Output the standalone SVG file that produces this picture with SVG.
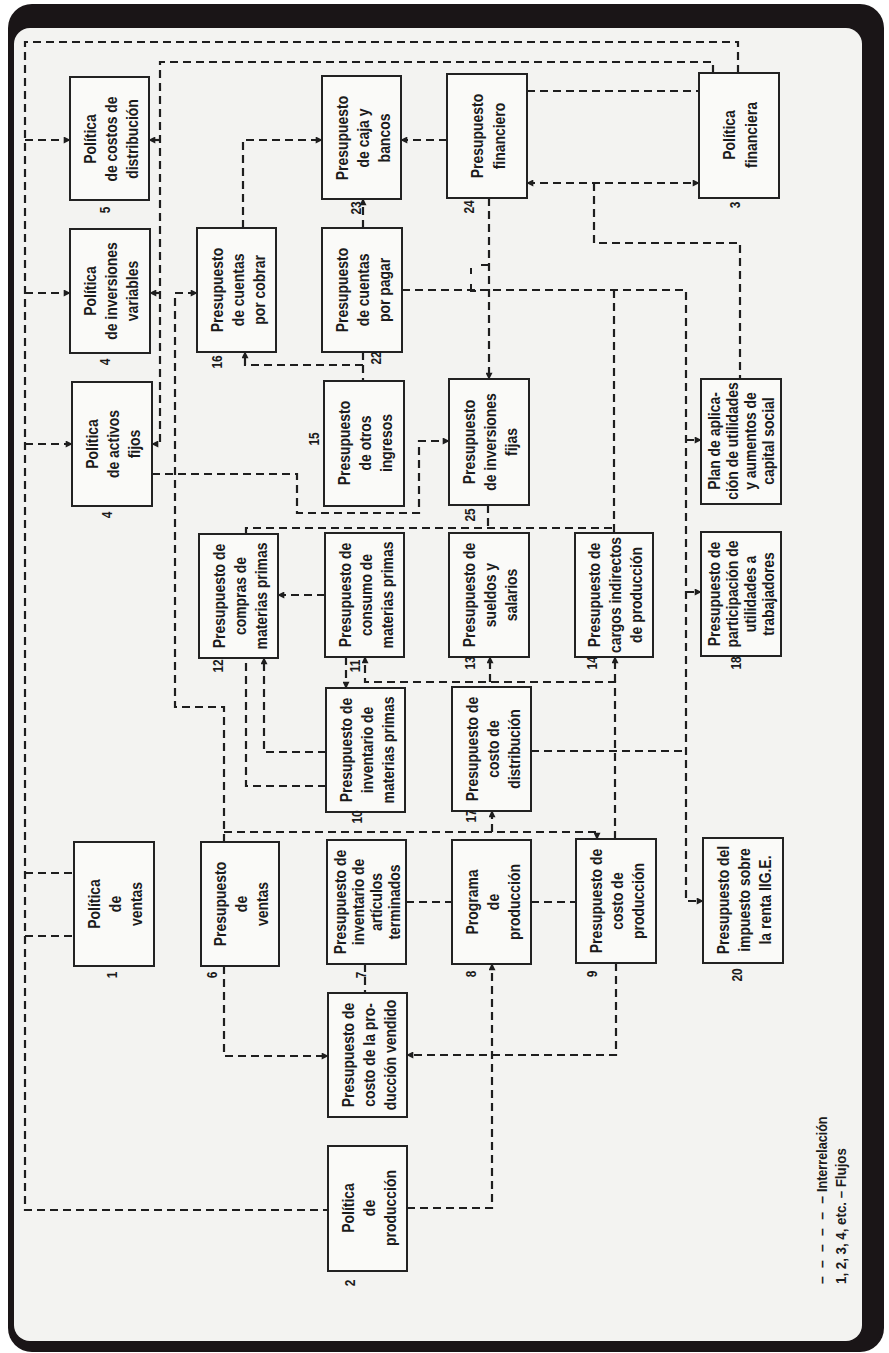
<svg xmlns="http://www.w3.org/2000/svg" width="889" height="1353" viewBox="0 0 889 1353">
<style>
.box{fill:#fafaf8;stroke:#222;stroke-width:2}
.t{font-family:"Liberation Sans",Arial,sans-serif;font-weight:bold;font-size:17px;fill:#1b1b1b;text-anchor:middle}
.n{font-family:"Liberation Sans",Arial,sans-serif;font-weight:bold;font-size:14px;fill:#1b1b1b;text-anchor:middle}
.lg{font-family:"Liberation Sans",Arial,sans-serif;font-weight:bold;font-size:14px;fill:#1b1b1b}
.c{fill:none;stroke:#1e1e1e;stroke-width:2.2;stroke-dasharray:8 5}
.a{marker-end:url(#ah)}
.s{fill:none;stroke:#1e1e1e;stroke-width:2}
</style>
<defs>
<marker id="ah" viewBox="0 0 10 10" refX="9" refY="5" markerWidth="8" markerHeight="7" orient="auto-start-reverse" markerUnits="userSpaceOnUse"><path d="M0,0L10,5L0,10z" fill="#1e1e1e"/></marker>
</defs>
<rect x="8" y="4" width="876" height="1348" rx="24" fill="#1a1517"/>
<rect x="14" y="28" width="848" height="1313" rx="16" fill="#f3f3f1"/>

<g id="connectors">
<path class="c" d="M738,73V42H25V1210H328"/>
<path class="c a" d="M25,140H70"/>
<path class="c a" d="M25,293H70"/>
<path class="c a" d="M25,444H72"/>
<path class="c" d="M25,873H74"/>
<path class="c" d="M25,936H74"/>
<path class="c a" d="M713,73V62H160V444H152"/>
<path class="c a" d="M160,140H149"/>
<path class="c a" d="M160,293H150"/>
<path class="c a" d="M407,1208H492V964"/>
<path class="c a" d="M616,963V1055H407"/>
<path class="c a" d="M224,966V1056H328"/>
<path class="c a" d="M224,842V707H175V293H197"/>
<path class="c a" d="M224,832H597V839"/>
<path class="c a" d="M492,832V811"/>
<path class="c" d="M406,902H452"/>
<path class="c" d="M531,902H576"/>
<path class="c" d="M365,964V993"/>
<path class="c a" d="M326,752H264V658"/>
<path class="c" d="M326,786H246V658"/>
<path class="c a" d="M346,657V688"/>
<path class="c a" d="M615,839V682H365V657"/>
<path class="c a" d="M490,682V657"/>
<path class="c a" d="M615,682V657"/>
<path class="c a" d="M325,595H278"/>
<path class="c a" d="M402,290H686V901H703"/>
<path class="c a" d="M686,440H701"/>
<path class="c a" d="M686,592H701"/>
<path class="c" d="M614,290V533"/>
<path class="c" d="M246,534V528H614"/>
<path class="c" d="M488,505V528"/>
<path class="c a" d="M152,474H297V513H419V441H449"/>
<path class="c a" d="M243,228V140H322"/>
<path class="c a" d="M447,140H401"/>
<path class="c a" d="M363,228V199"/>
<path class="c" d="M363,352V381"/>
<path class="c a" d="M363,365H245V352"/>
<path class="c a" d="M489,198V379"/>
<path class="c a" d="M527,183H699" marker-start="url(#ah)"/>
<path class="c" d="M527,91H699"/>
<path class="c" d="M594,183V243H740V379"/>
<path class="c" d="M531,751H686"/>
<path class="s" d="M471,268V274M471,284V291H476M481,265H489"/>
</g>

<g id="n1"><rect class="box" x="70" y="77" width="79" height="123"/><g transform="translate(110,139) rotate(-90) scale(0.82,1)"><text class="t" y="-14">Política</text><text class="t" y="7">de costos de</text><text class="t" y="28">distribución</text></g><text class="n" transform="translate(105,210) rotate(-90) scale(0.85,1)" y="5">5</text></g>
<g id="n2"><rect class="box" x="70" y="229" width="80" height="124"/><g transform="translate(110,291) rotate(-90) scale(0.82,1)"><text class="t" y="-14">Política</text><text class="t" y="7">de inversiones</text><text class="t" y="28">variables</text></g><text class="n" transform="translate(105,362) rotate(-90) scale(0.85,1)" y="5">4</text></g>
<g id="n3"><rect class="box" x="72" y="382" width="80" height="124"/><g transform="translate(112,444) rotate(-90) scale(0.82,1)"><text class="t" y="-14">Política</text><text class="t" y="7">de activos</text><text class="t" y="28">fijos</text></g><text class="n" transform="translate(107,515) rotate(-90) scale(0.85,1)" y="5">4</text></g>
<g id="n4"><rect class="box" x="74" y="842" width="80" height="124"/><g transform="translate(114,904) rotate(-90) scale(0.82,1)"><text class="t" y="-14">Política</text><text class="t" y="7">de</text><text class="t" y="28">ventas</text></g><text class="n" transform="translate(112,975) rotate(-90) scale(0.85,1)" y="5">1</text></g>
<g id="n5"><rect class="box" x="197" y="228" width="79" height="124"/><g transform="translate(237,290) rotate(-90) scale(0.82,1)"><text class="t" y="-14">Presupuesto</text><text class="t" y="7">de cuentas</text><text class="t" y="28">por cobrar</text></g><text class="n" transform="translate(217,362) rotate(-90) scale(0.85,1)" y="5">16</text></g>
<g id="n6"><rect class="box" x="199" y="534" width="79" height="124"/><g transform="translate(239,596) rotate(-90) scale(0.82,1)"><text class="t" y="-14">Presupuesto de</text><text class="t" y="7">compras de</text><text class="t" y="28">materias primas</text></g><text class="n" transform="translate(218,666) rotate(-90) scale(0.85,1)" y="5">12</text></g>
<g id="n7"><rect class="box" x="201" y="842" width="78" height="124"/><g transform="translate(240,904) rotate(-90) scale(0.82,1)"><text class="t" y="-14">Presupuesto</text><text class="t" y="7">de</text><text class="t" y="28">ventas</text></g><text class="n" transform="translate(212,975) rotate(-90) scale(0.85,1)" y="5">6</text></g>
<g id="n8"><rect class="box" x="322" y="76" width="79" height="123"/><g transform="translate(362,138) rotate(-90) scale(0.82,1)"><text class="t" y="-14">Presupuesto</text><text class="t" y="7">de caja y</text><text class="t" y="28">bancos</text></g><text class="n" transform="translate(356,208) rotate(-90) scale(0.85,1)" y="5">23</text></g>
<g id="n9"><rect class="box" x="322" y="228" width="80" height="124"/><g transform="translate(362,290) rotate(-90) scale(0.82,1)"><text class="t" y="-14">Presupuesto</text><text class="t" y="7">de cuentas</text><text class="t" y="28">por pagar</text></g><text class="n" transform="translate(376,358) rotate(-90) scale(0.85,1)" y="5">22</text></g>
<g id="n10"><rect class="box" x="324" y="381" width="80" height="125"/><g transform="translate(364,443) rotate(-90) scale(0.82,1)"><text class="t" y="-14">Presupuesto</text><text class="t" y="7">de otros</text><text class="t" y="28">ingresos</text></g><text class="n" transform="translate(314,439) rotate(-90) scale(0.85,1)" y="5">15</text></g>
<g id="n11"><rect class="box" x="325" y="533" width="79" height="124"/><g transform="translate(365,595) rotate(-90) scale(0.82,1)"><text class="t" y="-14">Presupuesto de</text><text class="t" y="7">consumo de</text><text class="t" y="28">materias primas</text></g><text class="n" transform="translate(355,666) rotate(-90) scale(0.85,1)" y="5">11</text></g>
<g id="n12"><rect class="box" x="326" y="688" width="79" height="124"/><g transform="translate(366,750) rotate(-90) scale(0.82,1)"><text class="t" y="-14">Presupuesto de</text><text class="t" y="7">inventario de</text><text class="t" y="28">materias primas</text></g><text class="n" transform="translate(357,817) rotate(-90) scale(0.85,1)" y="5">10</text></g>
<g id="n13"><rect class="box" x="327" y="840" width="79" height="124"/><g transform="translate(367,902) rotate(-90) scale(0.82,1)"><text class="t" y="-21">Presupuesto de</text><text class="t" y="-3">inventario de</text><text class="t" y="15">artículos</text><text class="t" y="33">terminados</text></g><text class="n" transform="translate(361,975) rotate(-90) scale(0.85,1)" y="5">7</text></g>
<g id="n14"><rect class="box" x="328" y="993" width="79" height="124"/><g transform="translate(368,1055) rotate(-90) scale(0.82,1)"><text class="t" y="-14">Presupuesto de</text><text class="t" y="7">costo de la pro-</text><text class="t" y="28">ducción vendido</text></g></g>
<g id="n15"><rect class="box" x="328" y="1146" width="79" height="125"/><g transform="translate(368,1208) rotate(-90) scale(0.82,1)"><text class="t" y="-14">Política</text><text class="t" y="7">de</text><text class="t" y="28">producción</text></g><text class="n" transform="translate(350,1283) rotate(-90) scale(0.85,1)" y="5">2</text></g>
<g id="n16"><rect class="box" x="447" y="74" width="80" height="124"/><g transform="translate(487,136) rotate(-90) scale(0.82,1)"><text class="t" y="-4">Presupuesto</text><text class="t" y="18">financiero</text></g><text class="n" transform="translate(469,207) rotate(-90) scale(0.85,1)" y="5">24</text></g>
<g id="n17"><rect class="box" x="449" y="379" width="80" height="126"/><g transform="translate(489,442) rotate(-90) scale(0.82,1)"><text class="t" y="-14">Presupuesto</text><text class="t" y="7">de inversiones</text><text class="t" y="28">fijas</text></g><text class="n" transform="translate(470,515) rotate(-90) scale(0.85,1)" y="5">25</text></g>
<g id="n18"><rect class="box" x="449" y="533" width="80" height="124"/><g transform="translate(489,595) rotate(-90) scale(0.82,1)"><text class="t" y="-14">Presupuesto de</text><text class="t" y="7">sueldos y</text><text class="t" y="28">salarios</text></g><text class="n" transform="translate(470,663) rotate(-90) scale(0.85,1)" y="5">13</text></g>
<g id="n19"><rect class="box" x="452" y="687" width="79" height="124"/><g transform="translate(492,749) rotate(-90) scale(0.82,1)"><text class="t" y="-14">Presupuesto de</text><text class="t" y="7">costo de</text><text class="t" y="28">distribución</text></g><text class="n" transform="translate(471,816) rotate(-90) scale(0.85,1)" y="5">17</text></g>
<g id="n20"><rect class="box" x="452" y="840" width="79" height="124"/><g transform="translate(492,902) rotate(-90) scale(0.82,1)"><text class="t" y="-14">Programa</text><text class="t" y="7">de</text><text class="t" y="28">producción</text></g><text class="n" transform="translate(471,974) rotate(-90) scale(0.85,1)" y="5">8</text></g>
<g id="n21"><rect class="box" x="575" y="533" width="78" height="124"/><g transform="translate(614,595) rotate(-90) scale(0.82,1)"><text class="t" y="-14">Presupuesto de</text><text class="t" y="7">cargos indirectos</text><text class="t" y="28">de producción</text></g><text class="n" transform="translate(592,663) rotate(-90) scale(0.85,1)" y="5">14</text></g>
<g id="n22"><rect class="box" x="576" y="839" width="80" height="124"/><g transform="translate(616,901) rotate(-90) scale(0.82,1)"><text class="t" y="-14">Presupuesto de</text><text class="t" y="7">costo de</text><text class="t" y="28">producción</text></g><text class="n" transform="translate(592,974) rotate(-90) scale(0.85,1)" y="5">9</text></g>
<g id="n23"><rect class="box" x="699" y="73" width="80" height="125"/><g transform="translate(739,135) rotate(-90) scale(0.82,1)"><text class="t" y="-4">Política</text><text class="t" y="18">financiera</text></g><text class="n" transform="translate(735,205) rotate(-90) scale(0.85,1)" y="5">3</text></g>
<g id="n24"><rect class="box" x="701" y="379" width="80" height="125"/><g transform="translate(741,441) rotate(-90) scale(0.82,1)"><text class="t" y="-21">Plan de aplica-</text><text class="t" y="-3">ción de utilidades</text><text class="t" y="15">y aumentos de</text><text class="t" y="33">capital social</text></g></g>
<g id="n25"><rect class="box" x="701" y="532" width="80" height="124"/><g transform="translate(741,594) rotate(-90) scale(0.82,1)"><text class="t" y="-21">Presupuesto de</text><text class="t" y="-3">participación de</text><text class="t" y="15">utilidades a</text><text class="t" y="33">trabajadores</text></g><text class="n" transform="translate(736,663) rotate(-90) scale(0.85,1)" y="5">18</text></g>
<g id="n26"><rect class="box" x="703" y="838" width="80" height="125"/><g transform="translate(743,900) rotate(-90) scale(0.82,1)"><text class="t" y="-14">Presupuesto del</text><text class="t" y="7">impuesto sobre</text><text class="t" y="28">la renta IIG.E.</text></g><text class="n" transform="translate(737,975) rotate(-90) scale(0.85,1)" y="5">20</text></g>

<g id="legend">
<text class="lg" transform="translate(827,1284) rotate(-90)" textLength="88" lengthAdjust="spacing">– – – – – –</text>
<text class="lg" transform="translate(827,1192) rotate(-90) scale(0.9,1)">Interrelación</text>
<text class="lg" transform="translate(846,1284) rotate(-90) scale(0.95,1)">1, 2, 3, 4, etc. – Flujos</text>
</g>
</svg>
